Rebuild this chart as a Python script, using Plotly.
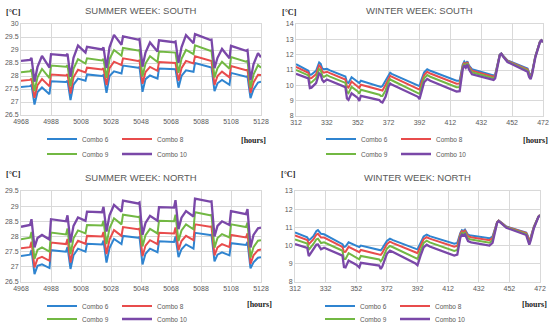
import plotly.graph_objects as go

SERIES = ["Combo 6", "Combo 8", "Combo 9", "Combo 10"]
COLORS = ["#2F84D0", "#E84C4C", "#72B843", "#7A48A8"]

# ---------------- SUMMER WEEK (hours) ----------------
SUMMER_HOURS = [4968, 4974, 4975, 4977, 4979, 4982, 4987, 4988, 4998, 4999, 5001, 5003, 5006, 5011,
                5012, 5022, 5023, 5025, 5027, 5030, 5035, 5036, 5046, 5047, 5049, 5051, 5054, 5059,
                5060, 5070, 5071, 5073, 5075, 5078, 5083, 5084, 5094, 5095, 5097, 5099, 5102, 5107,
                5108, 5118, 5119, 5121, 5123, 5126, 5128]

SS_C6 = [27.58, 27.61, 27.65, 26.90, 27.38, 27.56, 27.30, 27.80, 27.77, 27.82, 27.07, 27.67, 27.90, 27.82,
         28.06, 28.00, 28.04, 27.35, 28.00, 28.18, 28.10, 28.40, 28.32, 28.34, 27.39, 27.88, 28.02, 27.90,
         28.29, 28.24, 28.26, 27.55, 28.00, 28.22, 28.16, 28.50, 28.32, 28.33, 27.42, 27.72, 27.85, 27.66,
         28.12, 27.97, 27.99, 27.15, 27.48, 27.75, 27.78]
SS_C8 = [27.82, 27.85, 27.90, 27.16, 27.65, 27.88, 27.60, 28.06, 28.02, 28.07, 27.32, 27.95, 28.24, 28.14,
         28.32, 28.25, 28.30, 27.65, 28.30, 28.55, 28.42, 28.68, 28.58, 28.60, 27.70, 28.15, 28.35, 28.20,
         28.54, 28.48, 28.50, 27.82, 28.30, 28.58, 28.48, 28.76, 28.57, 28.58, 27.66, 28.00, 28.17, 27.95,
         28.38, 28.22, 28.24, 27.35, 27.75, 28.05, 28.04]
SS_C9 = [28.14, 28.18, 28.25, 27.42, 27.95, 28.27, 27.92, 28.40, 28.36, 28.42, 27.60, 28.28, 28.65, 28.48,
         28.68, 28.60, 28.66, 27.93, 28.65, 29.00, 28.78, 29.08, 28.98, 29.00, 27.98, 28.48, 28.76, 28.54,
         28.94, 28.88, 28.90, 28.12, 28.66, 29.00, 28.84, 29.18, 28.97, 28.98, 27.94, 28.30, 28.55, 28.28,
         28.73, 28.55, 28.58, 27.55, 28.05, 28.42, 28.32]
SS_C10 = [28.58, 28.62, 28.70, 27.78, 28.35, 28.77, 28.32, 28.84, 28.79, 28.85, 27.97, 28.70, 29.17, 28.90,
          29.12, 29.02, 29.10, 28.30, 29.10, 29.58, 29.20, 29.52, 29.40, 29.42, 28.36, 28.90, 29.29, 28.94,
          29.37, 29.30, 29.33, 28.51, 29.10, 29.57, 29.26, 29.61, 29.39, 29.40, 28.30, 28.70, 29.04, 28.68,
          29.16, 28.97, 29.00, 27.84, 28.45, 28.88, 28.72]

SN_C6 = [27.36, 27.40, 27.55, 26.76, 27.03, 27.08, 26.96, 27.55, 27.50, 27.65, 26.93, 27.38, 27.60, 27.50,
         27.76, 27.74, 27.86, 27.14, 27.62, 27.92, 27.75, 28.02, 27.96, 27.98, 27.08, 27.43, 27.60, 27.48,
         27.84, 27.82, 28.00, 27.32, 27.58, 27.74, 27.60, 28.12, 28.05, 28.06, 27.18, 27.40, 27.48, 27.38,
         27.78, 27.72, 27.82, 26.95, 27.15, 27.30, 27.32]
SN_C8 = [27.61, 27.65, 27.83, 26.98, 27.27, 27.33, 27.20, 27.80, 27.75, 27.92, 27.14, 27.62, 27.86, 27.76,
         28.02, 28.00, 28.15, 27.42, 27.90, 28.21, 28.02, 28.31, 28.24, 28.26, 27.35, 27.70, 27.88, 27.75,
         28.12, 28.10, 28.30, 27.55, 27.85, 28.02, 27.88, 28.40, 28.32, 28.33, 27.38, 27.64, 27.75, 27.65,
         28.05, 27.97, 28.10, 27.10, 27.38, 27.55, 27.57]
SN_C9 = [27.91, 27.96, 28.15, 27.26, 27.56, 27.64, 27.50, 28.13, 28.07, 28.26, 27.42, 27.94, 28.20, 28.10,
         28.38, 28.36, 28.52, 27.75, 28.27, 28.60, 28.40, 28.72, 28.64, 28.66, 27.67, 28.04, 28.25, 28.10,
         28.52, 28.50, 28.72, 27.85, 28.20, 28.40, 28.24, 28.80, 28.70, 28.71, 27.63, 27.95, 28.08, 27.97,
         28.40, 28.31, 28.46, 27.30, 27.65, 27.86, 27.88]
SN_C10 = [28.32, 28.38, 28.57, 27.64, 27.95, 28.05, 27.90, 28.57, 28.50, 28.70, 27.80, 28.35, 28.63, 28.52,
          28.82, 28.80, 28.98, 28.16, 28.70, 29.04, 28.82, 29.18, 29.09, 29.12, 28.05, 28.45, 28.68, 28.52,
          28.97, 28.95, 29.20, 28.24, 28.62, 28.84, 28.66, 29.25, 29.15, 29.16, 28.00, 28.35, 28.50, 28.38,
          28.84, 28.74, 28.90, 27.64, 28.05, 28.27, 28.29]

# ---------------- WINTER WEEK: SOUTH ----------------
WS_HOURS = [312, 319, 320, 321, 322, 325, 326, 327, 328, 329, 330, 332, 334, 344, 345, 346, 348, 352, 353,
            354, 366, 367, 368, 370, 372, 373, 374, 391, 392, 393, 395, 397, 399, 416, 418, 420, 421, 422,
            423, 424, 426, 440, 441, 444, 445, 446, 449, 462, 463, 464, 465, 467, 470, 471, 472]
WS_C6 = [11.38, 11.02, 10.95, 10.68, 10.70, 10.95, 11.20, 11.49, 11.40, 11.10, 11.05, 11.08, 10.98, 10.57,
         10.20, 10.15, 10.53, 10.22, 10.15, 10.30, 9.92, 9.90, 9.95, 10.30, 10.72, 10.82, 10.75, 9.98, 9.95,
         10.30, 10.85, 11.05, 10.95, 10.30, 10.30, 11.35, 11.55, 11.40, 11.57, 11.30, 11.05, 10.65, 10.70,
         12.00, 12.08, 11.95, 11.62, 11.10, 10.85, 10.55, 10.90, 11.90, 12.85, 12.95, 12.85]
WS_C8 = [11.21, 10.88, 10.82, 10.45, 10.47, 10.73, 11.01, 11.30, 11.21, 10.90, 10.83, 10.89, 10.80, 10.38,
         9.92, 9.85, 10.25, 9.94, 9.83, 10.04, 9.68, 9.64, 9.66, 10.02, 10.51, 10.63, 10.56, 9.78, 9.72,
         10.07, 10.67, 10.88, 10.77, 10.11, 10.12, 11.27, 11.48, 11.33, 11.51, 11.23, 10.96, 10.57, 10.63,
         11.99, 12.07, 11.94, 11.59, 11.04, 10.77, 10.51, 10.86, 11.87, 12.84, 12.94, 12.84]
WS_C9 = [11.00, 10.71, 10.65, 10.16, 10.19, 10.47, 10.78, 11.06, 10.98, 10.65, 10.55, 10.66, 10.57, 10.16,
         9.57, 9.49, 9.90, 9.60, 9.45, 9.71, 9.39, 9.31, 9.31, 9.67, 10.26, 10.40, 10.33, 9.54, 9.44,
         9.79, 10.46, 10.67, 10.56, 9.88, 9.89, 11.17, 11.40, 11.25, 11.44, 11.15, 10.85, 10.47, 10.55,
         11.97, 12.06, 11.92, 11.56, 10.97, 10.67, 10.46, 10.81, 11.84, 12.82, 12.93, 12.83]
WS_C10 = [10.75, 10.50, 10.45, 9.82, 9.85, 10.15, 10.50, 10.78, 10.70, 10.35, 10.22, 10.38, 10.30, 9.88,
          9.15, 9.05, 9.48, 9.18, 8.98, 9.32, 9.04, 8.92, 8.88, 9.25, 9.95, 10.12, 10.05, 9.25, 9.10,
          9.45, 10.20, 10.42, 10.30, 9.60, 9.62, 11.05, 11.30, 11.15, 11.35, 11.05, 10.72, 10.35, 10.45,
          11.95, 12.05, 11.90, 11.52, 10.88, 10.55, 10.40, 10.75, 11.80, 12.80, 12.92, 12.82]

# ---------------- WINTER WEEK: NORTH ----------------
WN_HOURS = [312, 319, 320, 321, 322, 324, 326, 327, 329, 331, 342, 343, 344, 345, 347, 352, 354, 355, 367,
            368, 369, 372, 374, 376, 391, 392, 394, 396, 398, 400, 416, 418, 420, 421, 422, 423, 425, 427,
            439, 441, 444, 445, 447, 450, 463, 464, 465, 466, 468, 471, 472]
WN_C6 = [10.72, 10.50, 10.45, 10.30, 10.35, 10.52, 10.80, 10.85, 10.65, 10.62, 10.12, 10.08, 9.92, 9.95,
         10.18, 10.00, 9.92, 10.00, 9.75, 9.74, 9.85, 10.25, 10.38, 10.30, 9.82, 9.80, 10.15, 10.50, 10.60,
         10.52, 10.10, 10.15, 10.70, 10.85, 10.80, 10.88, 10.60, 10.55, 10.40, 10.50, 11.30, 11.38, 11.25,
         11.05, 10.72, 10.55, 10.20, 10.50, 11.05, 11.60, 11.68]
WN_C8 = [10.56, 10.36, 10.31, 10.08, 10.15, 10.34, 10.61, 10.65, 10.44, 10.44, 9.97, 9.92, 9.65, 9.66,
         9.93, 9.74, 9.64, 9.76, 9.54, 9.49, 9.60, 10.08, 10.22, 10.14, 9.62, 9.58, 9.98, 10.35, 10.46,
         10.38, 9.94, 9.99, 10.64, 10.79, 10.74, 10.82, 10.51, 10.46, 10.30, 10.41, 11.29, 11.37, 11.24,
         11.03, 10.69, 10.50, 10.16, 10.45, 11.03, 11.60, 11.68]
WN_C9 = [10.34, 10.15, 10.11, 9.77, 9.87, 10.09, 10.35, 10.38, 10.14, 10.18, 9.76, 9.70, 9.26, 9.26,
         9.58, 9.37, 9.25, 9.43, 9.24, 9.13, 9.25, 9.83, 9.98, 9.91, 9.33, 9.27, 9.73, 10.14, 10.27,
         10.18, 9.71, 9.76, 10.55, 10.70, 10.65, 10.72, 10.39, 10.33, 10.16, 10.29, 11.27, 11.36, 11.22,
         11.01, 10.64, 10.43, 10.11, 10.38, 10.99, 11.59, 11.67]
WN_C10 = [10.08, 9.92, 9.88, 9.42, 9.55, 9.80, 10.05, 10.06, 9.80, 9.88, 9.52, 9.45, 8.82, 8.80,
          9.18, 8.95, 8.80, 9.05, 8.90, 8.72, 8.85, 9.55, 9.72, 9.65, 9.00, 8.92, 9.45, 9.90, 10.05,
          9.95, 9.45, 9.50, 10.45, 10.60, 10.55, 10.62, 10.25, 10.18, 10.00, 10.15, 11.25, 11.35, 11.20,
          10.98, 10.58, 10.35, 10.05, 10.30, 10.95, 11.58, 11.66]

PANEL_TITLES = ["SUMMER WEEK: SOUTH", "WINTER WEEK: SOUTH", "SUMMER WEEK: NORTH", "WINTER WEEK: NORTH"]
X_RANGES = [[4968, 5128], [312, 472], [4968, 5128], [312, 472]]
Y_RANGES = [[26.5, 30], [8, 14], [26.5, 29.5], [8, 13]]
Y_DTICKS = [0.5, 1, 0.5, 1]

panels = [
    (SUMMER_HOURS, [SS_C6, SS_C8, SS_C9, SS_C10]),
    (WS_HOURS, [WS_C6, WS_C8, WS_C9, WS_C10]),
    (SUMMER_HOURS, [SN_C6, SN_C8, SN_C9, SN_C10]),
    (WN_HOURS, [WN_C6, WN_C8, WN_C9, WN_C10]),
]

W, H = 550, 325
def px(x): return x / W
def py(y): return 1 - y / H

# plot-area boxes in pixels: (left, right, top, bottom)
BOXES = [(21, 261, 24, 115), (296, 543, 24, 116), (21, 261, 191, 282), (295, 540, 191, 282)]

fig = go.Figure()
GRID = "#D9D9D9"
TXT = "#595959"

for p, (hours, vals) in enumerate(panels):
    ax = "" if p == 0 else str(p + 1)
    for s, (name, col, yv) in enumerate(zip(SERIES, COLORS, vals)):
        leg_idx = p * 2 + (0 if s < 2 else 1) + 1
        fig.add_trace(go.Scatter(
            x=hours, y=yv, mode="lines", name=name,
            line=dict(color=col, width=2.3 if s == 3 else 2),
            xaxis="x" + ax, yaxis="y" + ax,
            legend="legend" if leg_idx == 1 else "legend%d" % leg_idx,
            hoverinfo="skip",
        ))
    l, r, t, b = BOXES[p]
    fig.layout["xaxis" + ax] = dict(
        domain=[px(l), px(r)], range=X_RANGES[p], dtick=20, tick0=X_RANGES[p][0],
        showgrid=True, gridcolor=GRID, gridwidth=1, zeroline=False, automargin=False,
        showline=True, linecolor=GRID, mirror=True, ticks="",
        tickfont=dict(size=7, color=TXT, family="Liberation Sans"),
        anchor="y" + ax, fixedrange=True)
    fig.layout["yaxis" + ax] = dict(
        domain=[py(b), py(t)], range=Y_RANGES[p], dtick=Y_DTICKS[p],
        showgrid=True, gridcolor=GRID, gridwidth=1, zeroline=False, automargin=False,
        showline=True, linecolor=GRID, mirror=True, ticks="",
        tickfont=dict(size=7, color=TXT, family="Liberation Sans"),
        anchor="x" + ax, fixedrange=True)

annotations = []
title_y = [10, 10, 177, 177]
for p in range(4):
    l, r, t, b = BOXES[p]
    annotations.append(dict(text=PANEL_TITLES[p], x=px((l + r) / 2), y=py(title_y[p]),
                            xref="paper", yref="paper", showarrow=False,
                            font=dict(size=9.5, color=TXT, family="Liberation Sans"),
                            xanchor="center", yanchor="middle"))
unit_pos = [(13, 12), (289, 12), (13, 174), (288, 174)]
for (ux, uy) in unit_pos:
    annotations.append(dict(text="<b>[°C]</b>", x=px(ux), y=py(uy), xref="paper", yref="paper",
                            showarrow=False, font=dict(size=8, color="#222222", family="Liberation Serif"),
                            xanchor="center", yanchor="middle"))
hours_pos = [(253, 140), (535, 140), (259, 304), (534, 304)]
for (hx, hy) in hours_pos:
    annotations.append(dict(text="<b>[hours]</b>", x=px(hx), y=py(hy), xref="paper", yref="paper",
                            showarrow=False, font=dict(size=8, color="#222222", family="Liberation Serif"),
                            xanchor="center", yanchor="middle"))

legend_common = dict(orientation="h", xanchor="left", yanchor="middle", bgcolor="rgba(0,0,0,0)",
                     font=dict(size=6.5, color=TXT, family="Liberation Sans"),
                     entrywidth=30, entrywidthmode="pixels", itemwidth=30, itemclick=False,
                     itemdoubleclick=False)
leg_rows = {}
legend_x = [42, 321, 42, 320]
legend_y = [(139, 154), (139, 154), (306, 319), (306, 319)]
for p in range(4):
    for r_ in range(2):
        idx = p * 2 + r_ + 1
        key = "legend" if idx == 1 else "legend%d" % idx
        leg_rows[key] = dict(legend_common, x=px(legend_x[p]), y=py(legend_y[p][r_]))

fig.update_layout(
    width=W, height=H, margin=dict(l=0, r=0, t=0, b=0, autoexpand=False),
    paper_bgcolor="white", plot_bgcolor="white",
    showlegend=True, annotations=annotations, **leg_rows)

fig.write_html("out.html", config={"displayModeBar": False},
               post_script="document.body.style.margin='0px';document.body.style.padding='0px';")
